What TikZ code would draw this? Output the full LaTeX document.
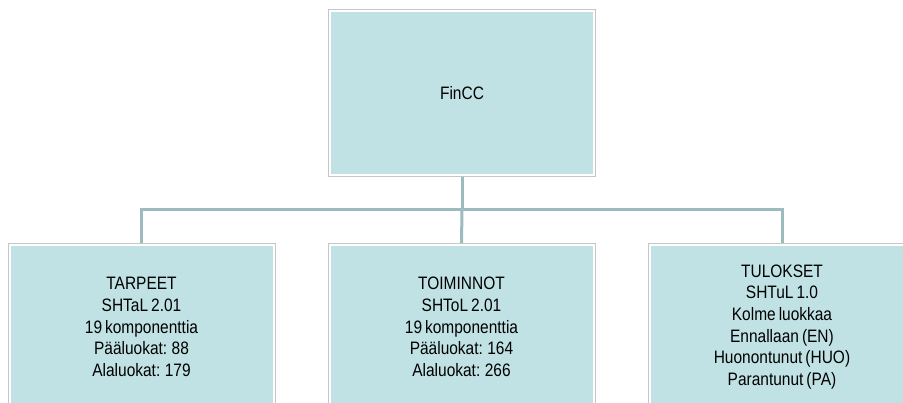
\documentclass[tikz,border=0pt]{standalone}
\usepackage{fontspec}
\setmainfont{Liberation Sans}[FakeStretch=0.86, WordSpace=0.7]
\definecolor{boxfill}{RGB}{192,226,228}
\definecolor{boxline}{RGB}{198,198,198}
\definecolor{conn}{RGB}{157,187,190}
\begin{document}
\begin{tikzpicture}[x=1pt,y=-1pt,
  orgbox/.style={draw=boxline, line width=1pt, fill=white, rectangle,
    minimum width=267pt, minimum height=167pt, inner sep=0pt, align=center,
    font=\fontsize{18}{21.7}\selectfont,
    path picture={\fill[boxfill] ([shift={(2.5pt,-2.5pt)}]path picture bounding box.north west) rectangle ([shift={(-2.5pt,2.5pt)}]path picture bounding box.south east);}},
  link/.style={draw=conn, line width=3pt}]
\useasboundingbox (0,0) rectangle (903,403);
\clip (0,0) rectangle (903,403);
\node[orgbox] (top) at (462,93.5) {FinCC};
\node[orgbox] (a) at (141.5,327) {TARPEET\\SHTaL 2.01\\19 komponenttia\\Pääluokat: 88\\Alaluokat: 179};
\node[orgbox] (b) at (461.5,327) {TOIMINNOT\\SHToL 2.01\\19 komponenttia\\Pääluokat: 164\\Alaluokat: 266};
\node[orgbox] (c) at (782,327) {TULOKSET\\SHTuL 1.0\\Kolme luokkaa\\Ennallaan (EN)\\Huonontunut (HUO)\\Parantunut (PA)};
\coordinate (bar) at (462,210);
\draw[link] (top.south) -- (bar);
\draw[link] (bar) -| (a.north);
\draw[link] (bar) -| (c.north);
\draw[link] (bar) -- (b.north);
\end{tikzpicture}
\end{document}
